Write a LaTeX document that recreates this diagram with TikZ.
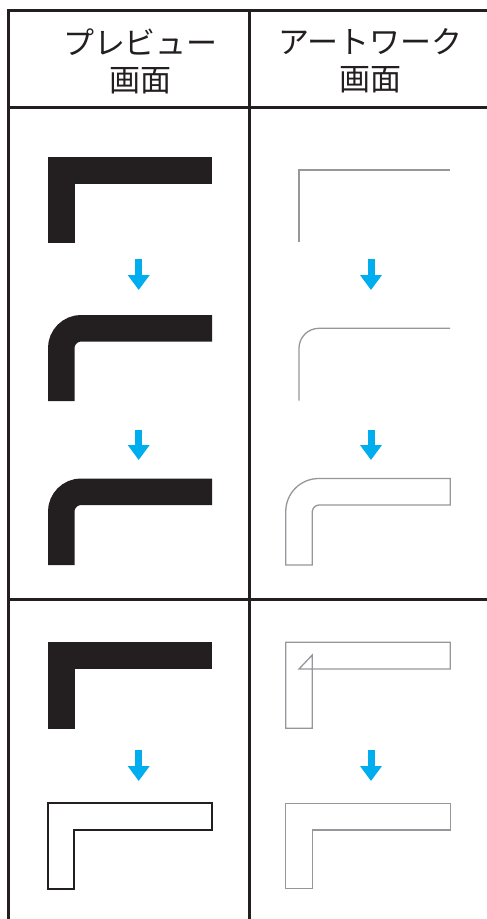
\documentclass[tikz,border=0pt]{standalone}
\usepackage{fontspec}
\setmainfont{Noto Sans CJK JP}
\usepackage{tikz}
\usetikzlibrary{arrows.meta}
\definecolor{inkblack}{RGB}{35,31,32}
\definecolor{artgrey}{RGB}{150,150,155}
\definecolor{cuecyan}{RGB}{0,174,239}
\tikzset{
  rule/.style={line width=3pt, draw=inkblack},
  head/.style={font=\fontsize{31}{37}\selectfont, align=center, text=inkblack, inner sep=0pt},
  prevline/.style={line width=26.5pt, draw=inkblack, line join=miter},
  prevout/.style={line width=2.2pt, draw=inkblack, line join=miter},
  artline/.style={line width=1.3pt, draw=artgrey},
  cue/.style={-{Triangle[length=15pt,width=21pt]}, line width=7pt, draw=cuecyan},
}
\begin{document}
\begin{tikzpicture}[x=1pt,y=-1pt]
  \useasboundingbox (0,0) rectangle (487,919);
  % table
  \draw[rule] (8,919) -- (8,10) -- (487,10);
  \draw[rule] (8,107) -- (487,107);
  \draw[rule] (8,599) -- (487,599);
  \draw[rule] (249,10) -- (249,919);
  \node[head] (hdprev) at (140.5,61) {プレビュー\\画面};
  \node[head] (hdart) at (370.5,61) {アートワーク\\画面};

  % preview column
  \draw[prevline] (61.25,243) -- (61.25,170.25) -- (212,170.25);
  \draw[prevline, rounded corners=20pt] (61.25,401) -- (61.25,328.25) -- (212,328.25);
  \draw[prevline, rounded corners=20pt] (61.25,565) -- (61.25,491.75) -- (212,491.75);
  \draw[prevline] (61.25,728.5) -- (61.25,655.5) -- (212,655.5);
  \draw[prevout] (48,889) -- (48,803.3) -- (212.3,803.3) -- (212.3,830) -- (74.3,830) -- (74.3,889) -- cycle;

  % artwork column
  \draw[artline] (299,242) -- (299,170) -- (450,170);
  \draw[artline, rounded corners=20pt] (299,400.7) -- (299,328.3) -- (450,328.3);
  \draw[artline] (312.25,565) -- (285.75,565) -- (285.75,511.5)
    arc[start angle=180, end angle=270, radius=33] -- (450.25,478.5)
    -- (450.25,505) -- (319.25,505)
    arc[start angle=270, end angle=180, radius=7] -- cycle;
  \draw[artline] (285.75,728.3) -- (285.75,642.3) -- (450.25,642.3) -- (450.25,669)
    -- (299,669) -- (312.25,655) -- (312.25,728.3) -- cycle;
  \draw[artline] (285.75,888.7) -- (285.75,803.3) -- (450.25,803.3) -- (450.25,830)
    -- (312.25,830) -- (312.25,888.7) -- cycle;

  % arrows
  \foreach \n/\t/\b in {1/259/290,2/430/460,3/750/781}{
    \coordinate (pt\n) at (138.7,\t);
    \coordinate (pb\n) at (138.7,\b);
    \coordinate (at\n) at (371,\t);
    \coordinate (ab\n) at (371,\b);
    \draw[cue] (pt\n) -- (pb\n);
    \draw[cue] (at\n) -- (ab\n);
  }
\end{tikzpicture}
\end{document}
